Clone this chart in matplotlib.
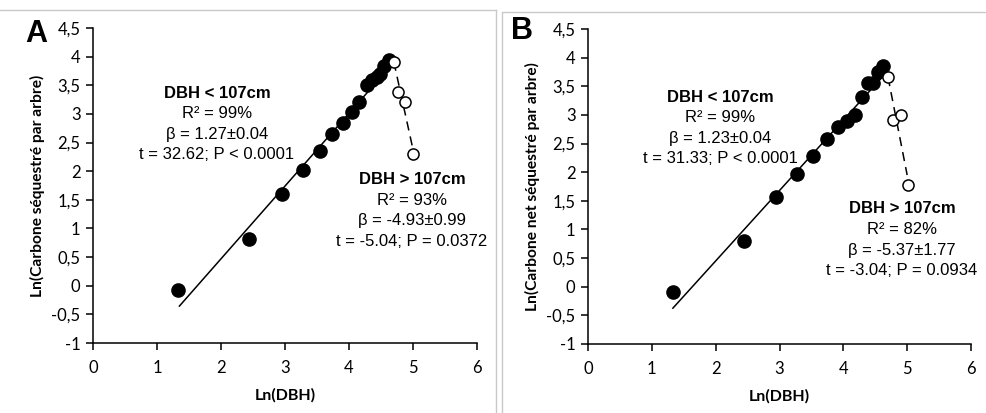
import matplotlib
matplotlib.use("Agg")
import numpy as np
import matplotlib.pyplot as plt
from matplotlib.lines import Line2D

# ---- données ----
# Panneau A : carbone séquestré
a_fill_x = [1.33, 2.43, 2.95, 3.28, 3.54, 3.73, 3.90, 4.04, 4.16, 4.28, 4.36, 4.43, 4.49, 4.55, 4.62]
a_fill_y = [-0.07, 0.82, 1.60, 2.02, 2.36, 2.645, 2.85, 3.04, 3.20, 3.51, 3.60, 3.65, 3.70, 3.83, 3.95]
a_open_x = [4.70, 4.77, 4.88, 5.00]
a_open_y = [3.91, 3.39, 3.20, 2.30]
a_fit = (-2.07, 1.27, 1.35, 4.65)      # intercept, pente, x min, x max
a_dash = [(4.70, 3.91), (5.00, 2.38)]

# Panneau B : carbone net séquestré
b_fill_x = [1.33, 2.44, 2.945, 3.28, 3.52, 3.74, 3.91, 4.05, 4.18, 4.29, 4.39, 4.46, 4.54, 4.62]
b_fill_y = [-0.10, 0.79, 1.57, 1.97, 2.29, 2.58, 2.79, 2.90, 3.00, 3.31, 3.56, 3.56, 3.75, 3.85]
b_open_x = [4.70, 4.78, 4.90, 5.01]
b_open_y = [3.66, 2.91, 2.99, 1.78]
b_fit = (-2.01, 1.23, 1.33, 4.65)
b_dash = [(4.70, 3.66), (5.00, 1.95)]

xticks = [0, 1, 2, 3, 4, 5, 6]
yticks = [-1, -0.5, 0, 0.5, 1, 1.5, 2, 2.5, 3, 3.5, 4, 4.5]
ytick_labels = [("%g" % v).replace(".", ",") for v in yticks]

panels = [
    dict(label="A", ylabel="Ln(Carbone séquestré par arbre)",
         fx=a_fill_x, fy=a_fill_y, ox=a_open_x, oy=a_open_y, fit=a_fit, dash=a_dash,
         txt1=["R² = 99%", "β = 1.27±0.04", "t = 32.62; P < 0.0001"],
         txt2=["R² = 93%", "β = -4.93±0.99", "t = -5.04; P = 0.0372"],
         pos1=(217, 93), pos2=(412, 180),
         rect=[93, 28, 477, 343], lab_pos=(36, 34), ylab_x=37),
    dict(label="B", ylabel="Ln(Carbone net séquestré par arbre)",
         fx=b_fill_x, fy=b_fill_y, ox=b_open_x, oy=b_open_y, fit=b_fit, dash=b_dash,
         txt1=["R² = 99%", "β = 1.23±0.04", "t = 31.33; P < 0.0001"],
         txt2=["R² = 82%", "β = -5.37±1.77", "t = -3.04; P = 0.0934"],
         pos1=(720, 97), pos2=(902, 209),
         rect=[588, 29, 971, 344], lab_pos=(522, 31), ylab_x=532),
]

W, H = 986, 413
fig = plt.figure(figsize=(W / 100, H / 100), dpi=100)

TICK_FONT = ["Lato", "DejaVu Sans"]
TXT_FONT = ["Liberation Sans", "DejaVu Sans"]


def fx_(px):
    return px / W


def fy_(py):
    return 1 - py / H


for p in panels:
    l, t, r, b = p["rect"]
    ax = fig.add_axes([fx_(l), fy_(b), (r - l) / W, (b - t) / H])
    ax.set_xlim(0, 6)
    ax.set_ylim(-1, 4.5)
    for s in ["top", "right"]:
        ax.spines[s].set_visible(False)
    for s in ["left", "bottom"]:
        ax.spines[s].set_linewidth(1.1)
    ax.set_xticks(xticks)
    ax.set_yticks(yticks)
    ax.set_yticklabels(ytick_labels)
    ax.tick_params(direction="out", length=5, width=1.1, labelsize=12, pad=4)
    for lab in ax.get_xticklabels() + ax.get_yticklabels():
        lab.set_family(TICK_FONT)
    ax.xaxis.set_tick_params(pad=7)

    c0, c1, x0, x1 = p["fit"]
    xs = np.array([x0, x1])
    ax.plot(xs, c0 + c1 * xs, color="black", lw=1.1, zorder=2)
    (dx0, dy0), (dx1, dy1) = p["dash"]
    ax.plot([dx0, dx1], [dy0, dy1], color="black", lw=1.1, ls=(0, (6, 4)), zorder=2)

    ax.plot(p["fx"], p["fy"], "o", color="black", ms=9.5, zorder=3)
    ax.plot(p["ox"], p["oy"], "o", mfc="white", mec="black", mew=1.1, ms=8, zorder=4)

    ax.set_xlabel("Ln(DBH)", fontsize=11.5, fontweight="bold", family=TICK_FONT, labelpad=9)

    # étiquettes hors axes, placées en pixels de figure
    fig.text(fx_(p["ylab_x"]), fy_((t + b) / 2), p["ylabel"], rotation=90, ha="center",
             va="center", fontsize=11.2, fontweight="bold", family=TICK_FONT)
    fig.text(fx_(p["lab_pos"][0]), fy_(p["lab_pos"][1]), p["label"], ha="center", va="center",
             fontsize=22, fontweight="bold", family=TXT_FONT)

    for (cx, cy), head, lines in [(p["pos1"], "DBH < 107cm", p["txt1"]),
                                  (p["pos2"], "DBH > 107cm", p["txt2"])]:
        fig.text(fx_(cx), fy_(cy), head, ha="center", va="center", fontsize=12,
                 fontweight="bold", family=TXT_FONT)
        for i, s in enumerate(lines):
            fig.text(fx_(cx), fy_(cy + 20.5 * (i + 1)), s, ha="center", va="center",
                     fontsize=12, family=TXT_FONT)

# cadres gris de la capture
grey = "#c9c9c9"
frame = [((0, 496), (10, 10)), ((496, 496), (10, 413)), ((502, 502), (13, 413)), ((502, 986), (12, 12))]
for xs_, ys_ in frame:
    fig.add_artist(Line2D([fx_(v) for v in xs_], [fy_(v) for v in ys_], color=grey, lw=1.0))

fig.savefig("out.png", dpi=100)
